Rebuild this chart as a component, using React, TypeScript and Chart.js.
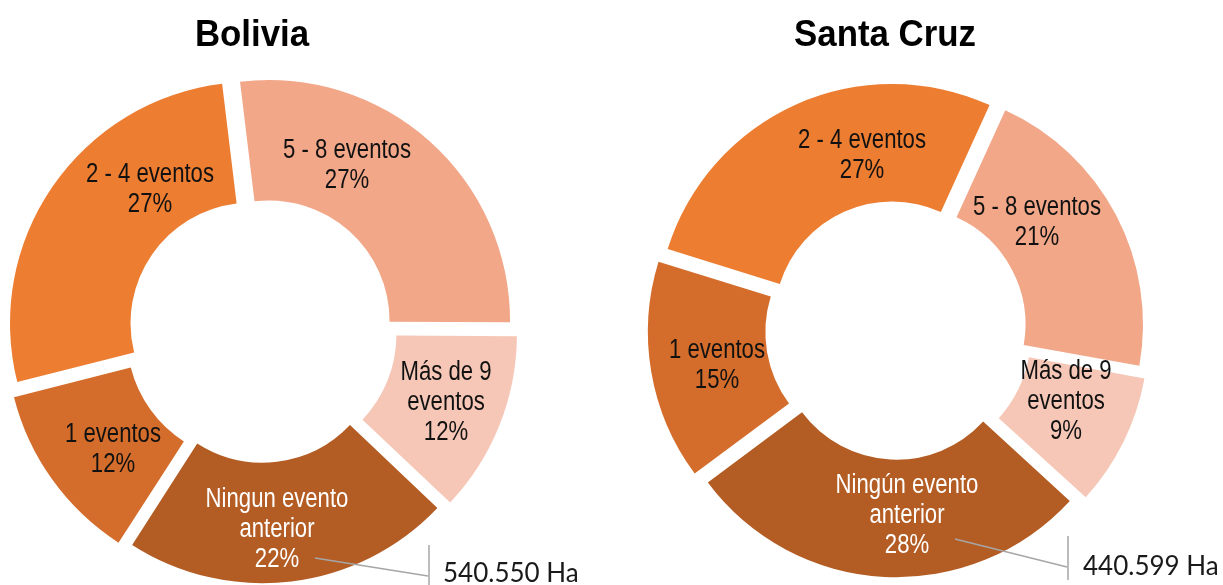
import React, { useEffect, useRef } from "react";
import { Chart, registerables } from "chart.js";

Chart.register(...registerables);

// ---------- data ----------
const categories = ["Ningún evento anterior", "1 eventos", "2 - 4 eventos", "5 - 8 eventos", "Más de 9 eventos"];
const boliviaValues = [22, 12, 27, 27, 12];
const santaCruzValues = [28, 15, 27, 21, 9];
const boliviaLabels = [["Ningun evento", "anterior", "22%"], ["1 eventos", "12%"], ["2 - 4 eventos", "27%"], ["5 - 8 eventos", "27%"], ["Más de 9", "eventos", "12%"]];
const santaCruzLabels = [["Ningún evento", "anterior", "28%"], ["1 eventos", "15%"], ["2 - 4 eventos", "27%"], ["5 - 8 eventos", "21%"], ["Más de 9", "eventos", "9%"]];
const chartTitles = ["Bolivia", "Santa Cruz"];
const totalLabels = ["540.550 Ha", "440.599 Ha"];

// ---------- styles / layout ----------
const sliceColors = ["#B35C23", "#D46D2B", "#ED7D31", "#F1A788", "#F6C7B6"];
const labelColors = ["#FFFFFF", "#111111", "#111111", "#111111", "#111111"];
const W = 1223;
const H = 585;

type Cfg = {
  values: number[];
  labels: string[][];
  title: string;
  titleX: number;
  center: [number, number];
  radius: number;
  rotation: number;
  labelPos: [number, number][];
  total: string;
  leader: [number, number, number, number];
  vline: [number, number, number];
  totalPos: [number, number];
};

const configs: Cfg[] = [
  {
    values: boliviaValues,
    labels: boliviaLabels,
    title: chartTitles[0],
    titleX: 252,
    center: [261, 330],
    radius: 241,
    rotation: 133.5,
    labelPos: [[277, 507], [113, 442], [150, 182], [347, 158], [446, 380]],
    total: totalLabels[0],
    leader: [315, 558, 428, 576],
    vline: [429, 545, 585],
    totalPos: [443, 582],
  },
  {
    values: santaCruzValues,
    labels: santaCruzLabels,
    title: chartTitles[1],
    titleX: 885,
    center: [897, 330],
    radius: 235,
    rotation: 132.5,
    labelPos: [[907, 493], [717, 358], [862, 148], [1037, 215], [1066, 379]],
    total: totalLabels[1],
    leader: [955, 539, 1067, 567],
    vline: [1068, 536, 580],
    totalPos: [1083, 575],
  },
];

let narrowCache: boolean | null = null;
function hasNarrow(ctx: CanvasRenderingContext2D): boolean {
  if (narrowCache !== null) return narrowCache;
  ctx.save();
  ctx.font = '40px "Liberation Sans Narrow", monospace';
  const a = ctx.measureText("abcdefghijMW").width;
  ctx.font = "40px monospace";
  const b = ctx.measureText("abcdefghijMW").width;
  ctx.restore();
  narrowCache = Math.abs(a - b) > 0.5;
  return narrowCache;
}

function drawNarrow(ctx: CanvasRenderingContext2D, text: string, x: number, y: number, size: number, bold: boolean, color: string, stretch = 1) {
  const narrow = hasNarrow(ctx);
  ctx.save();
  ctx.translate(x, y);
  ctx.scale((narrow ? 1 : 0.82) * stretch, 1);
  ctx.font = `${bold ? "bold " : ""}${size}px ${narrow ? '"Liberation Sans Narrow"' : '"Liberation Sans", Arial'}`;
  ctx.fillStyle = color;
  ctx.textAlign = "center";
  ctx.textBaseline = "alphabetic";
  ctx.fillText(text, 0, 0);
  ctx.restore();
}

function DonutChart({ cfg }: { cfg: Cfg }) {
  const ref = useRef<HTMLCanvasElement | null>(null);
  useEffect(() => {
    if (!ref.current) return;
    const [cx, cy] = cfg.center;
    const padLeft = Math.max(0, 2 * cx - W);
    const padRight = Math.max(0, W - 2 * cx);
    const padTop = Math.max(0, 2 * cy - H);
    const padBottom = Math.max(0, H - 2 * cy);
    const labelPlugin = {
      id: "donutLabels",
      afterDatasetsDraw(chart: any) {
        const ctx: CanvasRenderingContext2D = chart.ctx;
        // title
        drawNarrow(ctx, cfg.title, cfg.titleX, 46, 36, true, "#000000", 1.18);
        // slice labels
        cfg.labels.forEach((lines, i) => {
          const [x, y] = cfg.labelPos[i];
          lines.forEach((ln, j) => drawNarrow(ctx, ln, x, y + j * 30, 27, false, labelColors[i]));
        });
        // leader line
        ctx.save();
        ctx.strokeStyle = "#A6A6A6";
        ctx.lineWidth = 1.5;
        ctx.beginPath();
        ctx.moveTo(cfg.leader[0], cfg.leader[1]);
        ctx.lineTo(cfg.leader[2], cfg.leader[3]);
        ctx.stroke();
        ctx.beginPath();
        ctx.moveTo(cfg.vline[0], cfg.vline[1]);
        ctx.lineTo(cfg.vline[0], cfg.vline[2]);
        ctx.stroke();
        ctx.font = '26px Lato, "Open Sans", sans-serif';
        ctx.fillStyle = "#1A1A1A";
        ctx.textAlign = "left";
        ctx.textBaseline = "alphabetic";
        ctx.fillText(cfg.total, cfg.totalPos[0], cfg.totalPos[1]);
        ctx.restore();
      },
    };
    const chart = new Chart(ref.current, {
      type: "doughnut",
      data: {
        labels: categories,
        datasets: [
          {
            data: cfg.values,
            backgroundColor: sliceColors,
            borderWidth: 0,
            offset: 48,
            hoverOffset: 0,
            clip: false,
          } as any,
        ],
      },
      options: {
        responsive: false,
        animation: false,
        events: [],
        radius: cfg.radius,
        cutout: "50%",
        rotation: cfg.rotation,
        layout: { padding: { left: padLeft, right: padRight, top: padTop, bottom: padBottom } },
        plugins: {
          legend: { display: false },
          tooltip: { enabled: false },
          title: { display: false },
        },
      } as any,
      plugins: [labelPlugin],
    });
    return () => chart.destroy();
  }, [cfg]);
  return (
    <canvas
      ref={ref}
      width={W}
      height={H}
      style={{ position: "absolute", left: 0, top: 0, width: W, height: H }}
    />
  );
}

export default function App() {
  return (
    <div style={{ position: "absolute", left: 0, top: 0, width: W, height: H, background: "#FFFFFF", overflow: "hidden" }}>
      {configs.map((c, i) => (
        <DonutChart key={i} cfg={c} />
      ))}
    </div>
  );
}
